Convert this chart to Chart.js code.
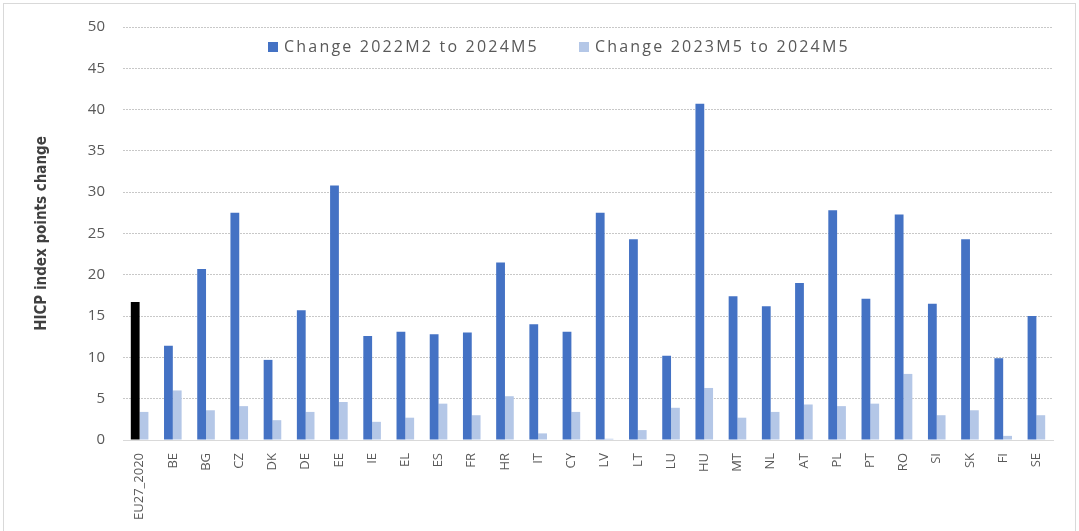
<!DOCTYPE html>
<html>
<head>
<meta charset="utf-8">
<script src="https://cdn.jsdelivr.net/npm/chart.js@4"></script>
<style>
  html, body { margin: 0; padding: 0; background: #fff; overflow: hidden; }
  #wrap { position: relative; width: 1079px; height: 531px; }
  #frame { position: absolute; left: 3px; top: 3px; width: 1073px; height: 540px; border: 1px solid #d9d9d9; box-sizing: border-box; }
  #legend { position: absolute; top: 35px; left: 268px; font-family: "Open Sans", sans-serif; font-size: 16px; color: #595959; letter-spacing: 2.2px; white-space: nowrap; }
  #legend span.item { display: inline-block; margin-right: 40px; }
  #legend span.box { display: inline-block; width: 10px; height: 10px; margin-right: 6px; vertical-align: 0px; }
</style>
</head>
<body>
<div id="wrap">
  <div id="frame"></div>
  <canvas id="chart" width="1079" height="531"></canvas>
  <div id="legend"></div>
</div>
<script>
var countries = ['EU27_2020', 'BE', 'BG', 'CZ', 'DK', 'DE', 'EE', 'IE', 'EL', 'ES', 'FR', 'HR', 'IT', 'CY', 'LV',
  'LT', 'LU', 'HU', 'MT', 'NL', 'AT', 'PL', 'PT', 'RO', 'SI', 'SK', 'FI', 'SE'];
var since2022 = [16.7, 11.4, 20.7, 27.5, 9.7, 15.7, 30.8, 12.6, 13.1, 12.8, 13.0, 21.5, 14.0, 13.1, 27.5,
  24.3, 10.2, 40.7, 17.4, 16.2, 19.0, 27.8, 17.1, 27.3, 16.5, 24.3, 9.9, 15.0];
var since2023 = [3.4, 6.0, 3.6, 4.1, 2.4, 3.4, 4.6, 2.2, 2.7, 4.4, 3.0, 5.3, 0.8, 3.4, 0.15,
  1.2, 3.9, 6.3, 2.7, 3.4, 4.3, 4.1, 4.4, 8.0, 3.0, 3.6, 0.5, 3.0];
var seriesNames = ['Change 2022M2 to 2024M5', 'Change 2023M5 to 2024M5'];
var yTicks = [0, 5, 10, 15, 20, 25, 30, 35, 40, 45, 50];

var darkBlue = '#4472C4';
var lightBlue = '#B4C7E7';
var grey = '#595959';

// legend drawn as html so it can sit over the plot like the original
var legendColors = [darkBlue, lightBlue];
var legendHtml = '';
for (let i = 0; i < seriesNames.length; i++) {
  legendHtml += '<span class="item"><span class="box" style="background:' + legendColors[i] + '"></span>' + seriesNames[i] + '</span>';
}
document.getElementById('legend').innerHTML = legendHtml;

const ctx = document.getElementById('chart').getContext('2d');
const chart = new Chart(ctx, {
  type: 'bar',
  data: {
    labels: countries,
    datasets: [
      {
        label: seriesNames[0],
        data: since2022,
        backgroundColor: function (c) {
          return c.dataIndex === 0 ? '#000000' : darkBlue;
        }
      },
      {
        label: seriesNames[1],
        data: since2023,
        backgroundColor: lightBlue
      }
    ]
  },
  options: {
    responsive: false,
    animation: false,
    barPercentage: 1,
    categoryPercentage: 0.53,
    layout: { padding: { left: 0, right: 26, top: 22, bottom: 0 } },
    plugins: {
      legend: { display: false },
      tooltip: { enabled: false }
    },
    scales: {
      x: {
        grid: { display: false },
        border: { display: true, color: '#d9d9d9', width: 1 },
        ticks: {
          color: grey,
          font: { family: 'Open Sans', size: 13 },
          minRotation: 90,
          maxRotation: 90,
          autoSkip: false,
          padding: 5
        },
        afterFit: function (scale) { scale.height = 91; }
      },
      y: {
        min: 0,
        max: 50,
        afterBuildTicks: function (scale) {
          scale.ticks = yTicks.map(function (v) { return { value: v }; });
        },
        grid: {
          color: '#c8c8c8',
          drawTicks: false,
          lineWidth: 1
        },
        border: { display: false, dash: [2, 1] },
        ticks: {
          color: grey,
          font: { family: 'Open Sans', size: 15 },
          padding: 18
        },
        title: {
          display: true,
          text: 'HICP index points change',
          color: '#404040',
          font: { family: 'DejaVu Sans Condensed', size: 15, weight: 'bold' },
          padding: { top: 33, bottom: 0 }
        },
        afterFit: function (scale) { scale.width = 123; }
      }
    }
  }
});
</script>
</body>
</html>
